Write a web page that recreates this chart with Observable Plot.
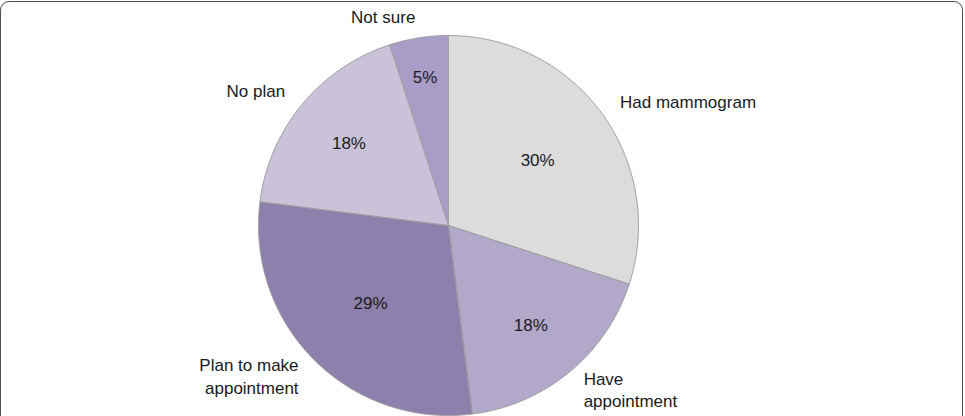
<!DOCTYPE html>
<html><head><meta charset="utf-8">
<script src="https://cdn.jsdelivr.net/npm/d3@7"></script>
<script src="https://cdn.jsdelivr.net/npm/@observablehq/plot@0.6"></script>
<style>
html,body{margin:0;padding:0;background:#fff;overflow:hidden;width:965px;height:416px;}
#frame{position:absolute;left:0;top:1px;width:963px;height:440px;border:1.6px solid #4d4d4d;border-radius:9px;box-sizing:border-box;}
#chart{position:absolute;left:0;top:0;}
</style></head><body>
<div id="frame"></div><div id="chart"></div>
<script>
// Data
const categories = ["Had mammogram", "Have\nappointment", "Plan to make\nappointment", "No plan", "Not sure"];
const percents = [30, 18, 29, 18, 5];
const percentLabels = ["30%", "18%", "29%", "18%", "5%"];

// Style
const colors = ["#dcdcdc", "#b1a8ca", "#8d80ad", "#cac2d8", "#a99dc8"];
const W = 965, H = 416, cx = 448, cy = 225, r = 190;
const FS = 17;

const arcs = d3.pie().sort(null).value(d => d)(percents);
const pts = [];
arcs.forEach((a, i) => {
  pts.push({k: categories[i], x: 0, y: 0});
  const n = Math.max(2, Math.ceil((a.endAngle - a.startAngle) / (Math.PI / 360)));
  for (let j = 0; j <= n; j++) {
    const t = a.startAngle + (a.endAngle - a.startAngle) * j / n;
    pts.push({k: categories[i], x: Math.sin(t), y: Math.cos(t)});
  }
  pts.push({k: categories[i], x: 0, y: 0});
});
const inner = arcs.map((a, i) => {
  const m = (a.startAngle + a.endAngle) / 2;
  const p = percents[i];
  const f = p >= 25 ? 0.58 : p >= 10 ? 0.68 : 0.79;
  return {t: percentLabels[i], x: f * Math.sin(m), y: f * Math.cos(m)};
});
const outer = arcs.map((a, i) => {
  const m = (a.startAngle + a.endAngle) / 2;
  const f = 1 + 22 / r;
  return {t: categories[i], x: f * Math.sin(m), y: f * Math.cos(m), anchor: Math.sin(m) >= 0 ? "start" : "end"};
});

const chart = Plot.plot({
  width: W, height: H,
  margin: 0,
  x: {domain: [-1, 1], range: [cx - r, cx + r], axis: null},
  y: {domain: [-1, 1], range: [cy + r, cy - r], axis: null},
  color: {type: "ordinal", domain: categories, range: colors},
  style: {fontFamily: "'Liberation Sans', Arial, sans-serif", background: "transparent"},
  marks: [
    Plot.line(pts, {x: "x", y: "y", z: "k", fill: "k", stroke: "#9e9e9e", strokeWidth: 1, strokeLinejoin: "round", curve: "linear"}),
    Plot.text(inner, {x: "x", y: "y", text: "t", fontSize: FS, fill: "#1a1a1a"}),
    Plot.text(outer.filter(d => d.anchor === "start"), {x: "x", y: "y", text: "t", fontSize: FS, fill: "#1a1a1a", textAnchor: "start", lineAnchor: "middle", lineHeight: 1.3}),
    Plot.text(outer.filter(d => d.anchor === "end"), {x: "x", y: "y", text: "t", fontSize: FS, fill: "#1a1a1a", textAnchor: "end", lineAnchor: "middle", lineHeight: 1.3})
  ]
});
document.getElementById("chart").appendChild(chart);
</script>
</body></html>
